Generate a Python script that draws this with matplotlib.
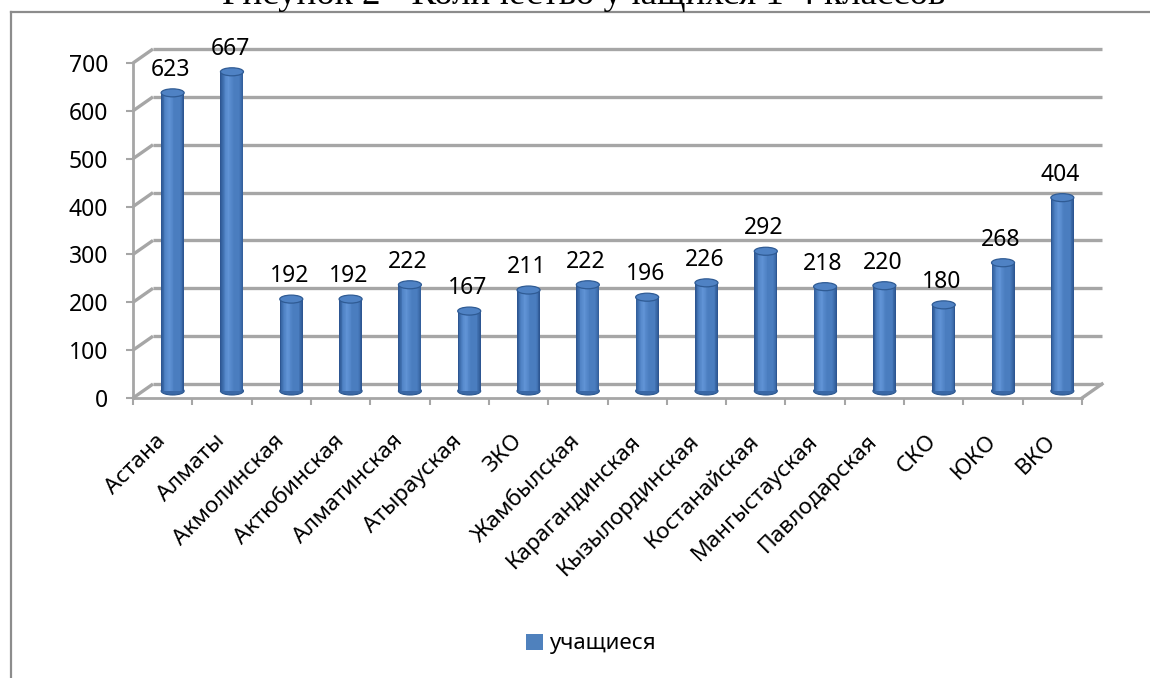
import matplotlib
matplotlib.use('Agg')
import matplotlib.pyplot as plt
from matplotlib.patches import Ellipse, Patch
from matplotlib.lines import Line2D
import numpy as np

# ---------------- data ----------------
categories = ['Астана', 'Алматы', 'Акмолинская', 'Актюбинская', 'Алматинская',
              'Атырауская', 'ЗКО', 'Жамбылская', 'Карагандинская', 'Кызылординская',
              'Костанайская', 'Мангыстауская', 'Павлодарская', 'СКО', 'ЮКО', 'ВКО']
values = [623, 667, 192, 192, 222, 167, 211, 222, 196, 226, 292, 218, 220, 180, 268, 404]
series_name = 'учащиеся'
title_text = 'Рисунок 2 - Количество учащихся 1-4 классов'
yticks = [0, 100, 200, 300, 400, 500, 600, 700]

# ---------------- style ----------------
plt.rcParams['font.family'] = ['Noto Sans', 'DejaVu Sans']
W, H = 1150, 678
grid_c = '#a6a6a6'
bar_c = '#4f81bd'

fig = plt.figure(figsize=(W / 100, H / 100), dpi=100)


def fx(px):
    return px / W


def fy(py):
    return 1 - py / H


# front plane of the 3D box
X0, X1, Y0, Y1 = 133, 1082, 398, 63
ax = fig.add_axes([fx(X0), fy(Y0), (X1 - X0) / W, (Y0 - Y1) / H])
n = len(categories)
ax.set_xlim(-0.5, n - 0.5)
ax.set_ylim(yticks[0], yticks[-1])
ax.patch.set_alpha(0)

ux = n / (X1 - X0)                         # data units per pixel (x)
uy = (yticks[-1] - yticks[0]) / (Y0 - Y1)  # data units per pixel (y)
DX, DY = 20, 14                            # depth offset in pixels
bx, by = DX * ux, DY * uy

for s in ['top', 'right', 'bottom', 'left']:
    ax.spines[s].set_visible(False)

# back wall gridlines + left wall diagonals
for t in yticks:
    ax.plot([-0.5 + bx, n - 0.5 + bx], [t + by, t + by], color=grid_c, lw=2.4,
            solid_capstyle='butt', clip_on=False, zorder=1)
    ax.plot([-0.5, -0.5 + bx], [t, t + by], color=grid_c, lw=2.4,
            solid_capstyle='butt', clip_on=False, zorder=1)
# floor right edge
ax.plot([n - 0.5, n - 0.5 + bx], [0, by], color=grid_c, lw=2.4, clip_on=False, zorder=1)
# front axes
ax.plot([-0.5, n - 0.5], [0, 0], color=grid_c, lw=2.0, clip_on=False, zorder=1)
ax.plot([-0.5, -0.5], [0, yticks[-1]], color=grid_c, lw=2.0, clip_on=False, zorder=1)

# ticks
ax.set_yticks(yticks)
ax.set_yticklabels([str(t) for t in yticks])
ax.set_xticks(np.arange(-0.5, n, 1.0))
ax.set_xticklabels([])
ax.tick_params(axis='y', direction='out', length=5, width=1.5, color=grid_c,
               labelsize=16.5, pad=13)
ax.tick_params(axis='x', direction='out', length=5, width=1.5, color=grid_c)

# ---------------- cylinders ----------------
bw = 23 * ux
base = by / 2
nsl = 28
dark = np.array([0.16, 0.32, 0.55])
mid = np.array([0.29, 0.49, 0.75])
light = np.array([0.38, 0.58, 0.84])
edges = np.linspace(-1, 1, nsl + 1)
for i, v in enumerate(values):
    xc = i + bx / 2
    # bottom ellipse
    ax.add_patch(Ellipse((xc, base), bw, 8 * uy, facecolor='#3a68a6',
                         edgecolor='#2c5890', lw=0.8, zorder=2.8, clip_on=False))
    for k in range(nsl):
        t = (edges[k] + edges[k + 1]) / 2
        edge_dark = np.clip((abs(t) - 0.62) / 0.38, 0, 1) ** 1.2
        hl = np.clip(1 - abs(t + 0.3) / 0.45, 0, 1)
        col = mid + (light - mid) * hl
        col = col + (dark - col) * edge_dark
        ax.bar(xc + t * bw / 2, v, width=bw / nsl * 1.05, bottom=base,
               color=col, edgecolor='none', zorder=3)
    ax.add_patch(Ellipse((xc, v + base), bw, 8 * uy, facecolor='#4f82c4',
                         edgecolor='#2f5b94', lw=0.9, zorder=4, clip_on=False))
    ax.annotate(str(v), (xc, v + base), xytext=(-2, 23), textcoords='offset pixels',
                ha='center', va='center', fontsize=16.5, zorder=5,
                annotation_clip=False)

# category labels
for i, c in enumerate(categories):
    ax.annotate(c, (i, 0), xytext=(0, -40), textcoords='offset pixels',
                rotation=45, rotation_mode='anchor', ha='right', va='center',
                fontsize=16.3, annotation_clip=False)

# ---------------- legend ----------------
fig.legend(handles=[Patch(facecolor=bar_c, edgecolor='none')], labels=[series_name],
           loc='center', bbox_to_anchor=(fx(591), fy(644)), frameon=False,
           fontsize=16, handlelength=0.75, handleheight=0.75, handletextpad=0.3)

# ---------------- frame & title ----------------
fig.add_artist(Line2D([fx(11), fx(11)], [fy(12), 0], transform=fig.transFigure,
                      color='#8c8c8c', lw=1.6))
fig.add_artist(Line2D([fx(11), 1], [fy(12), fy(12)], transform=fig.transFigure,
                      color='#8c8c8c', lw=1.6))
ttl = fig.text(fx(584), fy(4), title_text, ha='center', va='baseline',
               family=['Liberation Serif', 'DejaVu Serif'], fontsize=27)
r = fig.canvas.get_renderer()
wpx = ttl.get_window_extent(r).width
ttl.set_fontsize(27 * 724 / wpx)

fig.savefig('out.png', dpi=100)
